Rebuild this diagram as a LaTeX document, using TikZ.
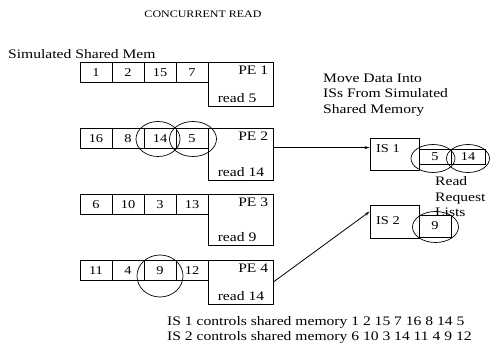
\documentclass[tikz,border=0pt]{standalone}
\usepackage{fontspec}
\setmainfont{Liberation Serif}[FakeStretch=1.2]
\usetikzlibrary{arrows.meta,calc,shapes.geometric}

\tikzset{
  big/.style={font=\fontsize{13}{15.5}\selectfont, inner sep=0pt},
  small/.style={font=\fontsize{10}{12}\selectfont, inner sep=0pt},
  cell/.style={draw, line width=0.9pt, minimum width=32pt, minimum height=20.5pt,
               inner sep=0pt, font=\fontsize{12}{14}\selectfont},
  pebox/.style={draw, line width=0.8pt, minimum width=65pt, inner sep=0pt},
  isbox/.style={draw, line width=0.8pt, minimum width=49pt, inner sep=0pt},
  isname/.style={font=\fontsize{12}{14}\selectfont, inner sep=0pt, anchor=west},
  ring/.style={draw, line width=0.7pt, ellipse, inner sep=0pt},
  link/.style={line width=0.8pt, -{Stealth[length=5pt,width=3pt]}},
}

\begin{document}
\begin{tikzpicture}[x=1pt,y=-1pt]
\useasboundingbox (0,0) rectangle (491,358);

\node[small] (title) at (203,14) {CONCURRENT READ};
\node[big, anchor=base west] (memlabel) at (8,59) {Simulated Shared Mem};

% memory rows: four cells followed by a processing element box
\foreach \r/\top/\h/\a/\b/\c/\d/\rd in {
    1/62/44/1/2/15/7/5,
    2/128/52/16/8/14/5/14,
    3/194/51/6/10/3/13/9,
    4/260/44/11/4/9/12/14} {
  \node[cell] (c\r a) at (96,\top+10.25) {\a};
  \node[cell] (c\r b) at (128,\top+10.25) {\b};
  \node[cell] (c\r c) at (160,\top+10.25) {\c};
  \node[cell] (c\r d) at (192,\top+10.25) {\d};
  \node[pebox, minimum height=\h pt] (pe\r) at (240.5,\top+\h/2) {};
  \node[big, anchor=east] (pe\r name) at ([xshift=-5pt,yshift=-9pt]pe\r.north east) {PE \r};
  \node[big, anchor=west] (pe\r read) at ([xshift=10pt,yshift=8pt]pe\r.south west) {read \rd};
}

% circled requests in the memory rows
\node[ring, minimum width=44pt, minimum height=35pt] (o14) at (158,139) {};
\node[ring, minimum width=47pt, minimum height=35pt] (o5) at (193,139) {};
\node[ring, minimum width=46pt, minimum height=42pt] (o9) at (160,276) {};

\node[big, anchor=west, align=left] (note) at (323,95) {Move Data Into\\ISs From Simulated\\Shared Memory};

% IS 1 with its read request list
\node[isbox, minimum height=32pt] (is1) at (394.5,154) {};
\node[isname] (is1name) at (376,149) {IS 1};
\node[cell, minimum width=32pt, minimum height=15pt] (q5) at (435,156.5) {5};
\node[cell, minimum width=34pt, minimum height=15pt] (q14) at (468,156.5) {14};
\node[ring, minimum width=44pt, minimum height=28pt] (oq5) at (433,158.5) {};
\node[ring, minimum width=43pt, minimum height=28pt] (oq14) at (468,158.5) {};

\node[big, anchor=west, align=left] (rrl) at (435,197) {Read\\Request\\Lists};

% IS 2 with its read request list
\node[isbox, minimum height=33pt] (is2) at (394.5,221.5) {};
\node[isname] (is2name) at (376,221) {IS 2};
\node[cell, minimum width=32pt, minimum height=22pt] (q9) at (435,226) {9};
\node[ring, minimum width=46pt, minimum height=31pt] (oq9) at (435.5,227) {};

% data movement
\draw[link] ([yshift=-20pt]pe2.north east) -- ([yshift=-10pt]is1.north west);
\draw[link] (pe4.east) -- ([yshift=-7pt]is2.north west);

\node[big, anchor=west, align=left] (summary) at (167,330)
  {IS 1 controls shared memory 1 2 15 7 16 8 14 5\\IS 2 controls shared memory 6 10 3 14 11 4 9 12};
\end{tikzpicture}
\end{document}
